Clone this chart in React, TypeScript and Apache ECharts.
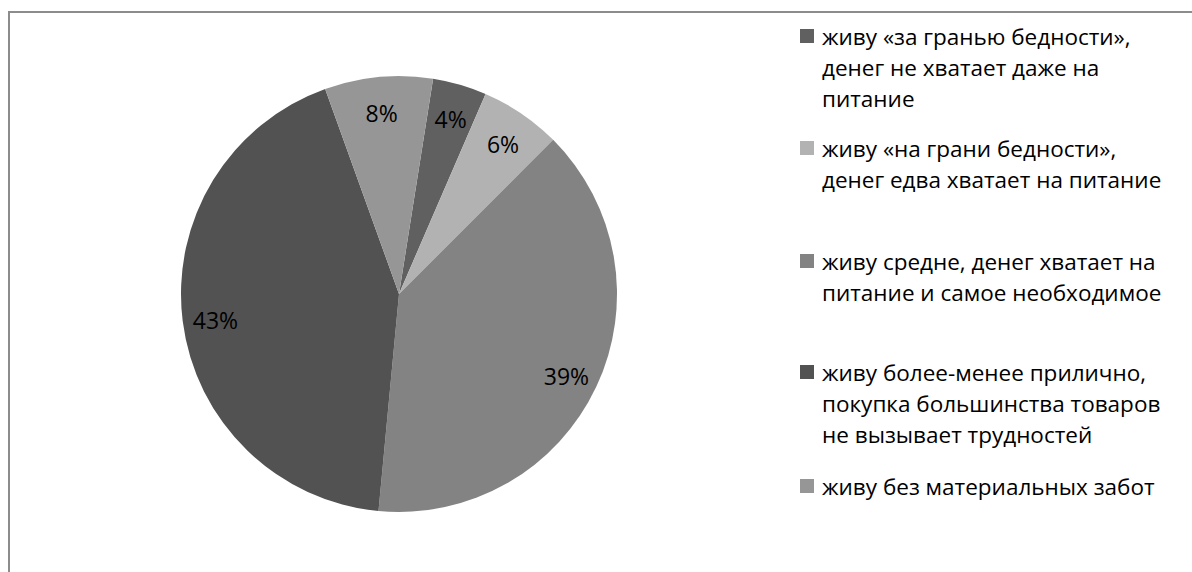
import React, { useEffect, useRef } from "react";
import * as echarts from "echarts";

const categories: string[] = [
  "живу «за гранью бедности»,\nденег не хватает даже на\nпитание",
  "живу «на грани бедности»,\nденег едва хватает на питание",
  "живу средне, денег хватает на\nпитание и самое необходимое",
  "живу более-менее прилично,\nпокупка большинства товаров\nне вызывает трудностей",
  "живу без материальных забот",
];
const values: number[] = [4, 6, 39, 43, 8];
const colors: string[] = ["#606060", "#b2b2b2", "#838383", "#525252", "#969696"];

const FONT = "'Open Sans', 'Noto Sans', sans-serif";
const LH = 31;
const LEGEND_CENTERS = [36, 148, 261, 372, 486];

export default function App() {
  const ref = useRef<HTMLDivElement>(null);
  useEffect(() => {
    if (!ref.current) return;
    const chart = echarts.init(ref.current, undefined, { renderer: "svg" });
    const data = categories.map((name, i) => ({
      name,
      value: values[i],
      itemStyle: { color: colors[i] },
    }));
    const legends = categories.map((name, i) => {
      const n = name.split("\n").length;
      return {
        data: [name],
        orient: "vertical",
        left: 800,
        top: LEGEND_CENTERS[i] - ((2 * n - 1) * LH) / 2,
        padding: 0,
        itemWidth: 14,
        itemHeight: 14,
        icon: "rect",
        selectedMode: false,
        formatter: (nm: string) => "\n".repeat(n - 1) + nm,
        textStyle: {
          fontFamily: FONT,
          fontSize: 22.5,
          lineHeight: LH,
          color: "#000",
          padding: [0, 0, 0, 3],
        },
      };
    });
    chart.setOption({
      animation: false,
      backgroundColor: "#fff",
      legend: legends,
      graphic: [
        {
          type: "rect",
          shape: { x: 9, y: 12, width: 1400, height: 800 },
          style: { fill: "none", stroke: "#8c8c8c", lineWidth: 2 },
          silent: true,
        },
      ],
      series: [
        {
          type: "pie",
          center: [399, 294],
          radius: [0, 218],
          startAngle: 81,
          clockwise: true,
          avoidLabelOverlap: false,
          silent: true,
          label: { show: false },
          labelLine: { show: false },
          itemStyle: { borderWidth: 0 },
          data,
        },
        {
          type: "pie",
          center: [399, 297],
          radius: [146, 218],
          startAngle: 81,
          clockwise: true,
          avoidLabelOverlap: false,
          silent: true,
          itemStyle: { color: "transparent", borderWidth: 0 },
          label: {
            show: true,
            position: "inside",
            formatter: "{c}%",
            fontFamily: FONT,
            fontSize: 23,
            color: "#000",
          },
          labelLine: { show: false },
          data: categories.map((name, i) => ({ name, value: values[i] })),
        },
      ],
    });
    return () => chart.dispose();
  }, []);
  return (
    <div
      ref={ref}
      style={{ position: "fixed", left: 0, top: 0, width: 1192, height: 572 }}
    />
  );
}
